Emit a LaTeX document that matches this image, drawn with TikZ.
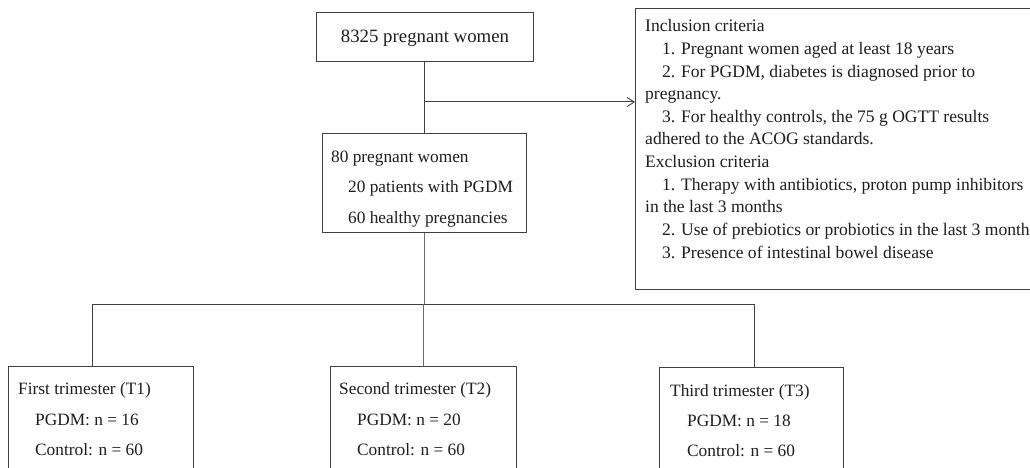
\documentclass[tikz,border=0pt]{standalone}
\usepackage{fontspec}
\setmainfont{Liberation Serif}
\usetikzlibrary{arrows.meta}
\definecolor{linec}{HTML}{404040}
\definecolor{lowc}{HTML}{6A6A6A}
\definecolor{textc}{HTML}{1E1E1E}
\tikzset{
  box/.style={draw=linec, line width=1.1pt, anchor=north west, inner sep=0pt, fill=none},
  txt/.style={font=\fontsize{17.3}{20}\selectfont, inner sep=0pt, text=textc, anchor=base west},
  itxt/.style={txt, font=\fontsize{17.55}{20}\selectfont},
  conn/.style={draw=linec, line width=1pt},
  lconn/.style={draw=lowc, line width=1pt},
}
\begin{document}
\begin{tikzpicture}[x=1pt,y=-1pt]
\clip (0,0) rectangle (1030,468);
\fill[white] (0,0) rectangle (1030,468);
% boxes
\node[box, minimum width=217, minimum height=49] (top) at (316,12) {};
\node[box, minimum width=204, minimum height=99] (mid) at (322,133) {};
\node[box, minimum width=420, minimum height=281] (inc) at (635,8) {};
\node[box, minimum width=185, minimum height=110] (b1) at (8,366) {};
\node[box, minimum width=186, minimum height=110] (b2) at (330,366) {};
\node[box, minimum width=184, minimum height=110] (b3) at (659,367) {};
% texts
\node[txt, font=\fontsize{18.8}{20}\selectfont, anchor=base] (ttop) at (425,43) {8325 pregnant women};
\node[txt] (m1) at (331,162) {80 pregnant women};
\node[txt] (m2) at (348,192.5) {20 patients with PGDM};
\node[txt] (m3) at (348,223) {60 healthy pregnancies};
\node[itxt] (i1) at (645,32) {Inclusion criteria};
\node[itxt] (i2) at (662,54.6) {1. Pregnant women aged at least 18 years};
\node[itxt] (i3) at (662,77.2) {2. For PGDM, diabetes is diagnosed prior to};
\node[itxt] (i4) at (645,99.8) {pregnancy.};
\node[itxt] (i5) at (662,122.4) {3. For healthy controls, the 75 g OGTT results};
\node[itxt] (i6) at (645,145) {adhered to the ACOG standards.};
\node[itxt] (i7) at (645,167.6) {Exclusion criteria};
\node[itxt] (i8) at (662,190.2) {1. Therapy with antibiotics, proton pump inhibitors};
\node[itxt] (i9) at (645,212.8) {in the last 3 months};
\node[itxt] (i10) at (662,235.4) {2. Use of prebiotics or probiotics in the last 3 months};
\node[itxt] (i11) at (662,258) {3. Presence of intestinal bowel disease};
\node[txt] (a1) at (18,394) {First trimester (T1)};
\node[txt] (a2) at (35,425) {PGDM: n = 16};
\node[txt] (a3) at (35,455) {Control: n = 60};
\node[txt] (c1) at (339,394) {Second trimester (T2)};
\node[txt] (c2) at (357,425) {PGDM: n = 20};
\node[txt] (c3) at (357,455) {Control: n = 60};
\node[txt] (d1) at (670,396) {Third trimester (T3)};
\node[txt] (d2) at (687,426) {PGDM: n = 18};
\node[txt] (d3) at (687,456) {Control: n = 60};
% connectors
\coordinate (j1) at (424,102);
\coordinate (j2) at (424,304);
\coordinate (h1) at (92,304);
\coordinate (h2) at (423,304);
\coordinate (h3) at (754,304);
\draw[conn] (top.south -| j1) -- (mid.north -| j1);
\draw[conn, -{Straight Barb[length=7pt,width=9pt,line width=0.9pt]}] (j1) -- (j1 -| inc.west);
\draw[lconn] (mid.south -| j2) -- (j2);
\draw[conn] (h1) -- (h3);
\draw[conn] (h1) -- (h1 |- b1.north);
\draw[lconn] (h2) -- (h2 |- b2.north);
\draw[conn] (h3) -- (h3 |- b3.north);
\end{tikzpicture}
\end{document}
